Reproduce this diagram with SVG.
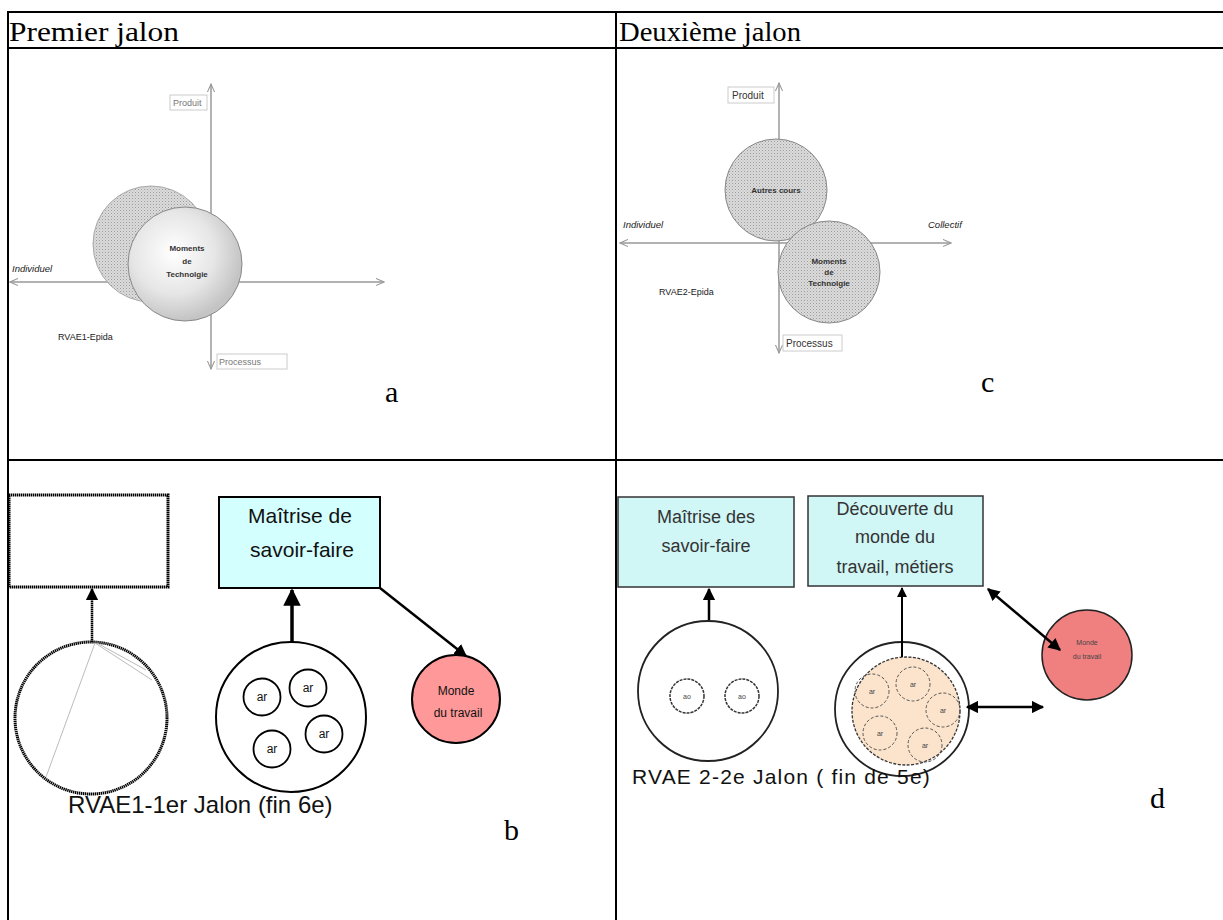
<svg xmlns="http://www.w3.org/2000/svg" width="1223" height="920" viewBox="0 0 1223 920">
<style>
.hdr{font-family:"Liberation Serif",serif;font-size:27px;fill:#000}
.let{font-family:"Liberation Serif",serif;font-size:30px;fill:#000}
.ax{stroke:#999;stroke-width:1.5;fill:none}
.axl{font-family:"Liberation Sans",sans-serif;font-size:9px;fill:#777}
.axl2{font-family:"Liberation Sans",sans-serif;font-size:10px;fill:#333}
.it{font-family:"Liberation Sans",sans-serif;font-size:9.5px;font-style:italic;fill:#222}
.sm{font-family:"Liberation Sans",sans-serif;font-size:9px;fill:#222}
.cb{font-family:"Liberation Sans",sans-serif;font-size:8px;font-weight:bold;fill:#333;text-anchor:middle}
.bx{font-family:"Liberation Sans",sans-serif;font-size:21px;fill:#111;text-anchor:middle}
.bx2{font-family:"Liberation Sans",sans-serif;font-size:18px;fill:#333;text-anchor:middle}
.ar{font-family:"Liberation Sans",sans-serif;font-size:12px;fill:#111;text-anchor:middle}
.ar2{font-family:"Liberation Sans",sans-serif;font-size:7px;fill:#444;text-anchor:middle}
.big{font-family:"Liberation Sans",sans-serif;font-size:24px;fill:#111}
.big2{font-family:"Liberation Sans",sans-serif;font-size:21px;fill:#111;letter-spacing:1.2px}
.tl{stroke:#000;stroke-width:2;fill:none}
</style>
<defs>
<pattern id="dots" width="3" height="3" patternUnits="userSpaceOnUse">
<rect width="3" height="3" fill="#dcdcdc"/>
<rect width="1" height="1" fill="#9a9a9a"/>
<rect x="1.5" y="1.5" width="1" height="1" fill="#b0b0b0"/>
</pattern>
<radialGradient id="glow" cx="0.4" cy="0.4" r="0.6">
<stop offset="0" stop-color="#ffffff"/>
<stop offset="0.6" stop-color="#e6e6e6"/>
<stop offset="1" stop-color="#c4c4c4"/>
</radialGradient>
<marker id="ga" viewBox="0 0 10 10" refX="9" refY="5" markerWidth="6" markerHeight="6" orient="auto-start-reverse">
<path d="M0,1 L9,5 L0,9" fill="none" stroke="#999" stroke-width="1.2"/>
</marker>
<marker id="ba" viewBox="0 0 10 10" refX="9" refY="5" markerWidth="5" markerHeight="5" orient="auto-start-reverse">
<path d="M0,0 L10,5 L0,10 z" fill="#000"/>
</marker>
</defs>
<rect width="1223" height="920" fill="#fff"/>

<g id="table" class="tl">
<line x1="7" y1="12" x2="1223" y2="12"/>
<line x1="7" y1="48" x2="1223" y2="48"/>
<line x1="7" y1="460" x2="1223" y2="460"/>
<line x1="8" y1="12" x2="8" y2="920"/>
<line x1="616" y1="12" x2="616" y2="920"/>
</g>
<text class="hdr" x="9" y="41" textLength="170" lengthAdjust="spacingAndGlyphs">Premier jalon</text>
<text class="hdr" x="619" y="41" textLength="182" lengthAdjust="spacingAndGlyphs">Deuxième jalon</text>
<text class="let" x="385" y="402">a</text>
<text class="let" x="981" y="392">c</text>
<text class="let" x="504" y="840">b</text>
<text class="let" x="1150" y="808">d</text>

<!-- Quadrant a -->
<g id="quad-a">
<line class="ax" x1="211" y1="84" x2="211" y2="369" marker-start="url(#ga)" marker-end="url(#ga)"/>
<line class="ax" x1="10" y1="282" x2="384" y2="282" marker-start="url(#ga)" marker-end="url(#ga)"/>
<g id="a-produit"><rect x="170" y="95" width="37" height="15" fill="#fff" stroke="#ccc"/><text class="axl" x="173" y="106">Produit</text></g>
<g id="a-processus"><rect x="217" y="354" width="70" height="15" fill="#fff" stroke="#ccc"/><text class="axl" x="219" y="365">Processus</text></g>
<text class="it" x="12" y="272">Individuel</text>
<text class="sm" x="58" y="340">RVAE1-Epida</text>
<g id="a-back"><circle cx="151" cy="244" r="58" fill="url(#dots)" stroke="#aaa" stroke-width="1"/></g>
<g id="a-moments"><circle cx="185" cy="264" r="57" fill="url(#glow)" stroke="#888" stroke-width="1"/>
<text class="cb" x="187" y="251">Moments</text><text class="cb" x="187" y="264">de</text><text class="cb" x="187" y="277">Technolgie</text></g>
</g>

<!-- Quadrant c -->
<g id="quad-c">
<line class="ax" x1="779" y1="83" x2="779" y2="353" marker-start="url(#ga)" marker-end="url(#ga)"/>
<line class="ax" x1="620" y1="243" x2="951" y2="243" marker-start="url(#ga)" marker-end="url(#ga)"/>
<g id="c-produit"><rect x="728" y="87" width="46" height="16" fill="#fff" stroke="#ccc"/><text class="axl2" x="732" y="99">Produit</text></g>
<g id="c-processus"><rect x="783" y="335" width="59" height="16" fill="#fff" stroke="#ccc"/><text class="axl2" x="786" y="347">Processus</text></g>
<text class="it" x="623" y="228">Individuel</text>
<text class="it" x="928" y="228">Collectif</text>
<text class="sm" x="659" y="295">RVAE2-Epida</text>
<g id="c-autres"><circle cx="776" cy="190" r="51" fill="url(#dots)" stroke="#888" stroke-width="1"/><text class="cb" x="776" y="193">Autres cours</text></g>
<g id="c-moments"><circle cx="829" cy="272" r="51" fill="url(#dots)" stroke="#888" stroke-width="1"/>
<text class="cb" x="829" y="264">Moments</text><text class="cb" x="829" y="275">de</text><text class="cb" x="829" y="286">Technolgie</text></g>
</g>

<!-- Quadrant b -->
<g id="b-empty"><rect x="9" y="495" width="159" height="92" fill="#fff" stroke="#000" stroke-width="3" stroke-dasharray="1.4 0.6"/></g>
<g id="b-circle1"><circle cx="91" cy="718" r="76" fill="#fff" stroke="#000" stroke-width="3" stroke-dasharray="1.4 0.6"/>
<line x1="95" y1="643" x2="46" y2="777" stroke="#bbb" stroke-width="1"/>
<line x1="95" y1="643" x2="152" y2="680" stroke="#bbb" stroke-width="1"/>
<line x1="97" y1="643" x2="146" y2="670" stroke="#bbb" stroke-width="1"/></g>
<g id="b-maitrise"><rect x="219" y="497" width="161" height="91" fill="#d4ffff" stroke="#000" stroke-width="2"/>
<text class="bx" x="300" y="523">Maîtrise de</text><text class="bx" x="302" y="557">savoir-faire</text></g>
<g id="b-ar-circle"><circle cx="291" cy="717" r="75" fill="#fff" stroke="#000" stroke-width="2"/>
<circle cx="262" cy="697" r="18.5" fill="#fff" stroke="#000" stroke-width="1.8"/><text class="ar" x="262" y="701">ar</text>
<circle cx="308" cy="688" r="18.5" fill="#fff" stroke="#000" stroke-width="1.8"/><text class="ar" x="308" y="692">ar</text>
<circle cx="324" cy="734" r="18.5" fill="#fff" stroke="#000" stroke-width="1.8"/><text class="ar" x="324" y="738">ar</text>
<circle cx="272" cy="749" r="18.5" fill="#fff" stroke="#000" stroke-width="1.8"/><text class="ar" x="272" y="753">ar</text></g>
<g id="b-monde"><circle cx="456" cy="699" r="44" fill="#ff9999" stroke="#000" stroke-width="2"/>
<text class="ar" x="456" y="695" font-size="13">Monde</text><text class="ar" x="458" y="717" font-size="13">du travail</text></g>
<text class="big" x="68" y="813" font-size="24.5">RVAE1-1er Jalon (fin 6e)</text>

<!-- Quadrant d -->
<g id="d-maitrise"><rect x="618" y="497" width="176" height="90" fill="#d0f6f6" stroke="#333" stroke-width="1.5"/>
<text class="bx2" x="706" y="523">Maîtrise des</text><text class="bx2" x="706" y="552">savoir-faire</text></g>
<g id="d-decouverte"><rect x="808" y="496" width="175" height="90" fill="#d0f6f6" stroke="#333" stroke-width="1.5"/>
<text class="bx2" x="895" y="515">Découverte du</text><text class="bx2" x="895" y="543">monde du</text><text class="bx2" x="895" y="573">travail, métiers</text></g>
<g id="d-ao-circle"><circle cx="708" cy="691" r="70" fill="#fff" stroke="#222" stroke-width="1.8"/>
<circle cx="687" cy="696" r="17" fill="#fff" stroke="#333" stroke-width="1.5" stroke-dasharray="3 1"/><text class="ar2" x="687" y="699">ao</text>
<circle cx="742" cy="696" r="17" fill="#fff" stroke="#333" stroke-width="1.5" stroke-dasharray="3 1"/><text class="ar2" x="742" y="699">ao</text></g>
<g id="d-ar-circle"><circle cx="902" cy="709" r="67" fill="#fff" stroke="#222" stroke-width="1.8"/>
<circle cx="906" cy="711" r="54" fill="#fbe3cc" stroke="#333" stroke-width="1.3" stroke-dasharray="3 1.5"/>
<circle cx="872" cy="691" r="17" fill="none" stroke="#555" stroke-width="1" stroke-dasharray="3 2"/><text class="ar2" x="872" y="694">ar</text>
<circle cx="913" cy="684" r="17" fill="none" stroke="#555" stroke-width="1" stroke-dasharray="3 2"/><text class="ar2" x="913" y="687">ar</text>
<circle cx="943" cy="710" r="17" fill="none" stroke="#555" stroke-width="1" stroke-dasharray="3 2"/><text class="ar2" x="943" y="713">ar</text>
<circle cx="880" cy="733" r="17" fill="none" stroke="#555" stroke-width="1" stroke-dasharray="3 2"/><text class="ar2" x="880" y="736">ar</text>
<circle cx="925" cy="745" r="17" fill="none" stroke="#555" stroke-width="1" stroke-dasharray="3 2"/><text class="ar2" x="925" y="748">ar</text></g>
<g id="d-monde"><circle cx="1087" cy="655" r="45" fill="#f08080" stroke="#222" stroke-width="1.5"/>
<text class="ar2" x="1087" y="645" font-size="8.5">Monde</text><text class="ar2" x="1087" y="659" font-size="8.5">du travail</text></g>
<text class="big2" x="632" y="784">RVAE 2-2e Jalon ( fin de 5e)</text>

<g id="connectors" fill="none" stroke="#000">
<line x1="92" y1="642" x2="92" y2="589" stroke-width="2.5" stroke-dasharray="1.4 0.6" marker-end="url(#ba)"/>
<line x1="292" y1="642" x2="292" y2="590" stroke-width="3.5" marker-end="url(#ba)"/>
<line x1="380" y1="588" x2="466" y2="656" stroke-width="2.5" marker-end="url(#ba)"/>
<line x1="709" y1="620" x2="709" y2="589" stroke-width="2.5" marker-end="url(#ba)"/>
<line x1="902" y1="657" x2="902" y2="588" stroke-width="2" marker-end="url(#ba)"/>
<line x1="988" y1="589" x2="1060" y2="650" stroke-width="2.5" marker-start="url(#ba)" marker-end="url(#ba)"/>
<line x1="967" y1="707" x2="1043" y2="707" stroke-width="2.5" marker-start="url(#ba)" marker-end="url(#ba)"/>
</g>
</svg>
